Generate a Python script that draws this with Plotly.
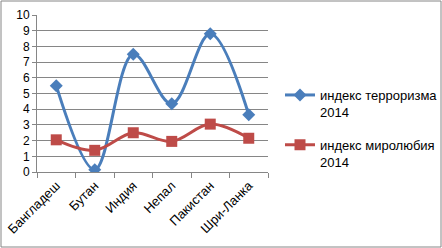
import plotly.graph_objects as go

categories = ["Бангладеш", "Бутан", "Индия", "Непал", "Пакистан", "Шри-Ланка"]
terror_2014 = [5.5, 0.15, 7.5, 4.35, 8.8, 3.65]
peace_2014 = [2.05, 1.38, 2.5, 1.95, 3.05, 2.15]
y_ticks = list(range(0, 11))

W, H = 442, 248
L, R, T, B = 37, 174, 15, 76
pw, ph = W - L - R, H - T - B

fig = go.Figure()
fig.add_trace(go.Scatter(
    x=categories, y=terror_2014, mode="lines+markers",
    name="индекс терроризма<br>2014", legendgroup="g1",
    line=dict(color="#4A7EBB", width=3, shape="spline", smoothing=1),
    marker=dict(symbol="diamond", size=10, color="#4A7EBB"),
))
fig.add_trace(go.Scatter(
    x=categories, y=peace_2014, mode="lines+markers",
    name="индекс миролюбия<br>2014", legendgroup="g2",
    line=dict(color="#BE4B48", width=3, shape="spline", smoothing=1),
    marker=dict(symbol="square", size=11, color="#BE4B48"),
))

font = "Liberation Sans, Arial, sans-serif"
fig.update_layout(
    width=W, height=H,
    margin=dict(l=L, r=R, t=T, b=B, autoexpand=False),
    paper_bgcolor="white", plot_bgcolor="white",
    font=dict(family=font, size=12, color="#000000"),
    showlegend=True,
    legend=dict(xref="container", yref="container", x=280 / W, y=1 - 128.5 / H,
                xanchor="left", yanchor="middle", valign="top",
                font=dict(size=13), tracegroupgap=13, itemwidth=30,
                bgcolor="rgba(0,0,0,0)"),
    xaxis=dict(showgrid=False, showline=True, linecolor="#868686", linewidth=1,
               ticks="outside", tickson="boundaries", ticklen=5, tickcolor="#868686",
               tickangle=-45, tickfont=dict(size=13), range=[-0.5, 5.5]),
    yaxis=dict(range=[0, 10], tickvals=y_ticks, showgrid=True, gridcolor="#868686",
               gridwidth=1, showline=True, linecolor="#868686", linewidth=1,
               ticks="outside", ticklen=4, tickcolor="#868686",
               tickfont=dict(size=12), zeroline=False),
    shapes=[dict(type="rect", xref="paper", yref="paper",
                 x0=-(L - 1) / pw, x1=1 + (R - 1) / pw,
                 y0=-(B - 1) / ph, y1=1 + (T - 1) / ph,
                 line=dict(color="#868686", width=1), layer="below")],
)

fig.write_html("out.html", config={"displayModeBar": False},
               post_script="document.body.style.margin='0';document.body.style.overflow='hidden';")
